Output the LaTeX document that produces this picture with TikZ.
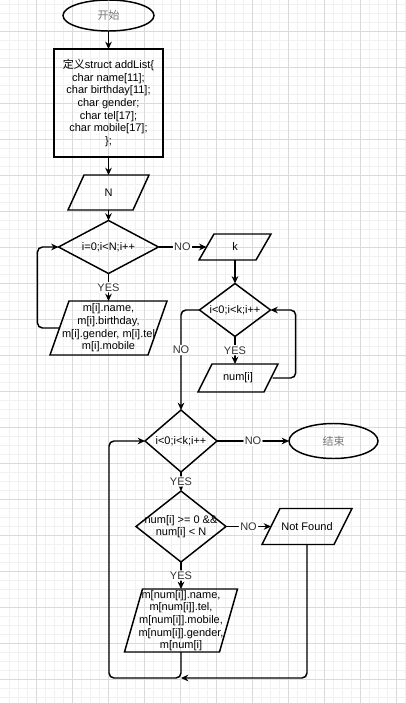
\documentclass[tikz,border=0pt]{standalone}
\usepackage{fontspec}
\setmainfont{Liberation Sans}
\newfontfamily\cjk{Noto Sans CJK SC}
\usetikzlibrary{shapes.geometric, arrows.meta}

\definecolor{gridmajor}{RGB}{218,218,218}
\definecolor{gridminor}{RGB}{241,241,241}
\definecolor{labelgray}{RGB}{51,51,51}
\definecolor{cjkgray}{RGB}{120,120,120}

\tikzset{
	shp/.style={draw=black, line width=1.1pt, inner sep=1pt, outer sep=0pt, font=\fontsize{8.25}{9.5}\selectfont, align=center},
	term/.style={shp, ellipse},
	box/.style={shp, rectangle},
	io/.style={rectangle, inner sep=0pt, outer sep=0pt, font=\fontsize{8.25}{9.5}\selectfont, align=center},
	ioline/.style={draw=black, line width=1.1pt, line join=miter},
	cond/.style={shp, diamond},
	txt/.style={inner sep=0pt, font=\fontsize{8.25}{9.5}\selectfont, align=center},
	lbl/.style={fill=white, inner sep=1pt, text=labelgray, font=\fontsize{8.25}{9.5}\selectfont},
	flow/.style={-{Stealth[length=5.5pt, width=5pt, inset=1.8pt]}, line width=1.1pt, rounded corners=3.75pt}
}

% outline of an input/output box: node name, slant
\newcommand{\iobox}[2]{\draw[ioline] (#1.south west) -- ([xshift=-#2]#1.south east) -- (#1.north east) -- ([xshift=#2]#1.north west) -- cycle;}

\begin{document}
\begin{tikzpicture}[x=0.75pt, y=-0.75pt]
	
	\useasboundingbox (0,0) rectangle (406,703);
	
	% grid
	\foreach \gx in {9,18,...,405} \draw[gridminor, line width=0.6pt] (\gx,0) -- (\gx,703);
	\foreach \gy in {4,13,...,702} \draw[gridminor, line width=0.6pt] (0,\gy) -- (406,\gy);
	\foreach \gx in {36,72,...,396} \draw[gridmajor, line width=0.7pt] (\gx,0) -- (\gx,703);
	\foreach \gy in {31,67,...,679} \draw[gridmajor, line width=0.7pt] (0,\gy) -- (406,\gy);
	
	\node[term, minimum width=68.25pt, minimum height=23.25pt] (start) at (108.5, 15.5) {\textcolor{cjkgray}{\cjk 开始}};
	\node[box, minimum width=81.75pt, minimum height=81pt] (def) at (108.5, 103) {{\cjk 定义}struct addList\{\\char name[11];\\char birthday[11];\\char gender;\\char tel[17];\\char mobile[17];\\\};};
	\node[io, minimum width=60.75pt, minimum height=26.25pt] (readN) at (108.5, 192.5) {N};
	\iobox{readN}{12pt}
	\node[cond, minimum width=75pt, minimum height=39.75pt] (loopA) at (108.5, 247) {};
	\node[txt] (loopAt) at (loopA) {i=0;i<N;i++};
	\node[io, minimum width=87.75pt, minimum height=40.5pt] (readm) at (108.5, 328) {m[i].name,\\m[i].birthday,\\m[i].gender, m[i].tel\\m[i].mobile};
	\iobox{readm}{14.25pt}
	
	\node[io, minimum width=54pt, minimum height=19.5pt] (readk) at (235, 247) {k};
	\iobox{readk}{11.25pt}
	\node[cond, minimum width=53.25pt, minimum height=39.75pt] (loopB) at (235, 310) {};
	\node[txt] (loopBt) at (loopB) {i<0;i<k;i++};
	\node[io, minimum width=60pt, minimum height=21pt] (readnum) at (238, 378) {num[i]};
	\iobox{readnum}{10.5pt}
	
	\node[cond, minimum width=54pt, minimum height=46.5pt] (loopC) at (181, 441) {};
	\node[txt] (loopCt) at (loopC) {i<0;i<k;i++};
	\node[term, minimum width=66.75pt, minimum height=26.25pt] (stop) at (333.5, 441) {\textcolor{cjkgray}{\cjk 结束}};
	\node[cond, minimum width=67.5pt, minimum height=53.25pt] (check) at (181, 526.5) {};
	\node[txt] (checkt) at (check) {num[i] >= 0 \&\&\\num[i] < N};
	\node[io, minimum width=67.5pt, minimum height=27pt] (notfound) at (307, 526.5) {Not Found};
	\iobox{notfound}{13.5pt}
	\node[io, minimum width=84.75pt, minimum height=47.25pt] (show) at (181, 620.5) {m[num[i]].name,\\m[num[i]].tel,\\m[num[i]].mobile,\\m[num[i]].gender,\\m[num[i]};
	\iobox{show}{13.5pt}
	
	\path[flow] (start) edge (def);
	\path[flow] (def) edge (readN);
	\path[flow] (readN) edge (loopA);
	\path[flow] (loopA) edge node[lbl]{YES} (readm);
	\path[flow] (loopA) edge node[lbl]{NO} ([xshift=5.6pt]readk.west);
	\draw[flow] ([xshift=7.1pt]readm.west) -- ++(-22,0) |- (loopA.west);
	
	\path[flow] (readk) edge (loopB);
	\path[flow] (loopB) edge node[lbl]{YES} (loopB |- readnum.north);
	\draw[flow] ([xshift=-4pt]readnum.east) -- ++(23,0) |- (loopB.east);
	\draw[flow] (loopB.west) -| node[lbl, pos=0.7]{NO} (loopC.north);
	
	\path[flow] (loopC) edge node[lbl]{NO} (stop);
	\path[flow] (loopC) edge node[lbl]{YES} (check);
	\path[flow] (check) edge node[lbl]{NO} ([xshift=6.75pt]notfound.west);
	\path[flow] (check) edge node[lbl]{YES} (show);
	\draw[flow] (show.south) -- ++(0,26) coordinate (back) -- ++(-72,0) |- (loopC.west);
	\draw[flow] (notfound.south) |- (back);
	
\end{tikzpicture}
\end{document}
